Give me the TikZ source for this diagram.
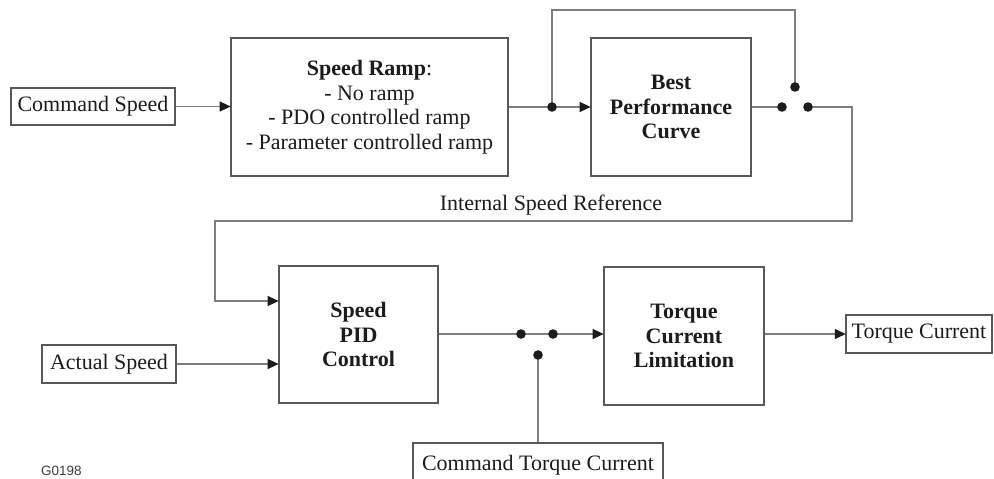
\documentclass[tikz,border=0pt]{standalone}
\usepackage{fontspec}
\setmainfont{Liberation Serif}
\newfontfamily\codesans{Liberation Sans}
\usetikzlibrary{arrows.meta}
\definecolor{wire}{HTML}{7E7E7E}
\definecolor{frame}{HTML}{585858}
\definecolor{ink}{HTML}{1C1C1C}
\tikzset{
  blockbox/.style={draw=frame, line width=1.7pt, text=ink, inner sep=0pt, align=center,
    font=\fontsize{22}{24.5}\selectfont\bfseries},
  rampbox/.style={blockbox, font=\fontsize{22}{24.5}\selectfont},
  iobox/.style={draw=frame, line width=1.5pt, text=ink, inner sep=0pt,
    font=\fontsize{22}{24}\selectfont},
  lbl/.style={text=ink, inner sep=0pt, font=\fontsize{22}{24}\selectfont},
  wireline/.style={draw=wire, line width=1.4pt},
  arr/.style={-{Triangle[length=11pt,width=10pt,color=ink,fill=ink]}, shorten >=-0.5pt},
  junction/.style={fill=ink}
}
\begin{document}
\begin{tikzpicture}[x=1pt,y=-1pt]
\clip (0,0) rectangle (994,479);
\fill[white] (0,0) rectangle (994,479);

% blocks
\node[iobox, minimum width=164, minimum height=37] (cmd) at (93,106.5) {Command Speed};
\node[rampbox, minimum width=277, minimum height=138] (ramp) at (369.5,107)
  {\textbf{Speed Ramp}:\\- No ramp\\- PDO controlled ramp\\- Parameter controlled ramp};
\node[blockbox, minimum width=160, minimum height=138] (bpc) at (671,107)
  {Best\\Performance\\Curve};
\node[blockbox, minimum width=159, minimum height=137] (pid) at (358.5,334.5)
  {Speed\\PID\\Control};
\node[blockbox, minimum width=160, minimum height=138] (torq) at (684,336)
  {Torque\\Current\\Limitation};
\node[iobox, minimum width=134, minimum height=38] (act) at (109,364) {Actual Speed};
\node[iobox, minimum width=146, minimum height=38] (tcur) at (919,334) {Torque Current};
\node[iobox, minimum width=250, minimum height=44] (ctc) at (538,465) {Command Torque Current};
\node[lbl] (isr) at (551,205) {Internal Speed Reference};
\node[text=ink!85, inner sep=0pt, anchor=west, font=\codesans\fontsize{13.5}{14}\selectfont]
  (code) at (41,471) {G0198};

% switch contacts and junctions
\coordinate (j1) at (552,107);
\coordinate (s1a) at (782,107);
\coordinate (s1b) at (795,87);
\coordinate (s1c) at (808,107);
\coordinate (s2a) at (521,334);
\coordinate (s2b) at (553,334);
\coordinate (s2c) at (538,355);
\coordinate (r1) at (852,221);
\coordinate (r2) at (215,301);

% connectors
\draw[wireline, arr] (cmd.east) -- (cmd.east -| ramp.west);
\draw[wireline] (ramp.east |- j1) -- (j1);
\draw[wireline, arr] (j1) -- (j1 -| bpc.west);
\draw[wireline] (j1) -- ++(0,-97) -| (s1b);
\draw[wireline] (bpc.east |- s1a) -- (s1a);
\draw[wireline, arr] (s1c) -| (r1) -| (r2) -- (r2 -| pid.west);
\draw[wireline, arr] (act.east) -- (act.east -| pid.west);
\draw[wireline] (pid.east |- s2a) -- (s2a) -- (s2b);
\draw[wireline, arr] (s2b) -- (s2b -| torq.west);
\draw[wireline] (s2c) -- (s2c |- ctc.north);
\draw[wireline, arr] (torq.east |- tcur.west) -- (tcur.west);

% dots
\foreach \p in {j1,s1a,s1b,s1c,s2a,s2b,s2c}
  \fill[junction] (\p) circle (4.8);
\end{tikzpicture}
\end{document}
